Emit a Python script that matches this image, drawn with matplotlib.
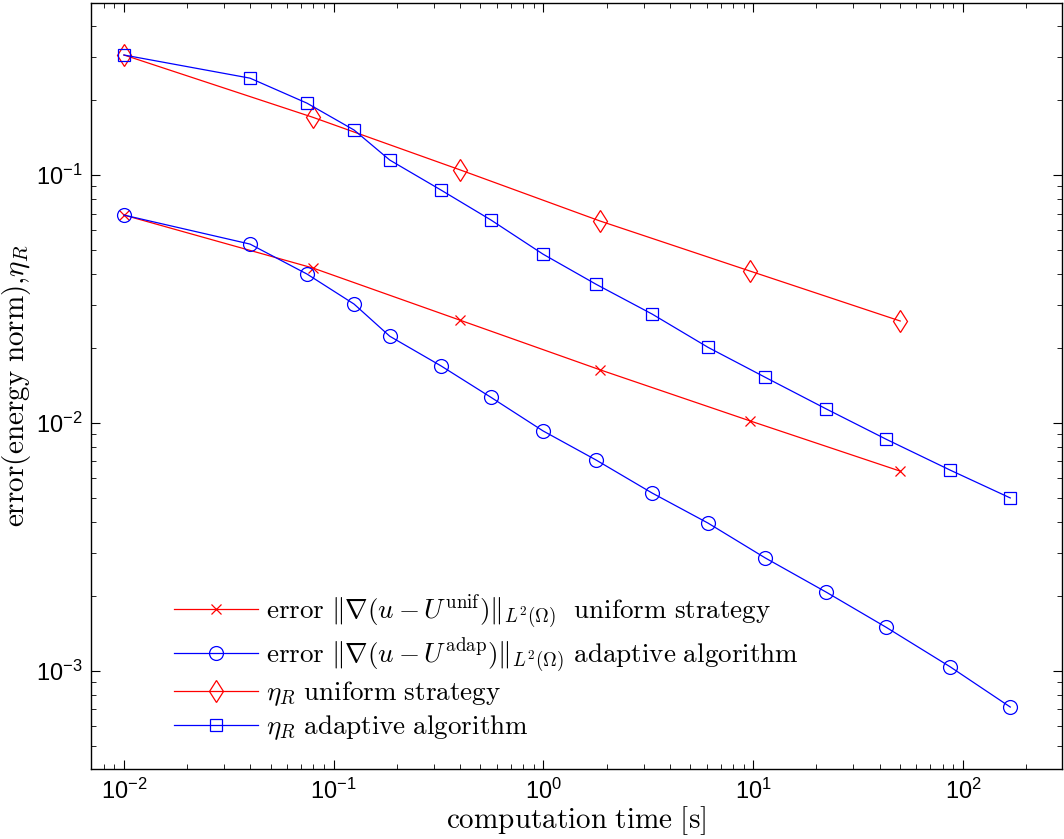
"""
Error and eta_R against computation time, uniform vs adaptive refinement.
"""

import matplotlib

matplotlib.use("Agg")
import matplotlib.pyplot as plt
from matplotlib.font_manager import FontProperties
from matplotlib.ticker import NullFormatter

# computation time [s]
t_unif = [0.01, 0.0796, 0.40, 1.86, 9.67, 50.2]
t_adap = [0.01, 0.0399, 0.0746, 0.125, 0.185, 0.325, 0.562, 0.995, 1.78,
          3.30, 6.09, 11.4, 22.3, 43.1, 86.9, 168.0]

# error in energy norm
err_unif = [0.069, 0.0422, 0.026, 0.0164, 0.0102, 0.0064]
err_adap = [0.069, 0.0527, 0.0399, 0.0302, 0.0224, 0.0170, 0.0127, 0.0093,
            0.0071, 0.00522, 0.00395, 0.00286, 0.00208, 0.00150, 0.00104,
            0.000716]

# residual estimator eta_R
eta_unif = [0.305, 0.171, 0.105, 0.0653, 0.041, 0.0258]
eta_adap = [0.305, 0.246, 0.195, 0.152, 0.115, 0.087, 0.0659, 0.048, 0.0363,
            0.0275, 0.0202, 0.0153, 0.0114, 0.0086, 0.00646, 0.00499]

labels = [
    r"$\mathrm{error}\ \|\nabla(u-U^{\mathrm{unif}})\|_{L^2(\Omega)}\ \ \mathrm{uniform\ strategy}$",
    r"$\mathrm{error}\ \|\nabla(u-U^{\mathrm{adap}})\|_{L^2(\Omega)}\ \mathrm{adaptive\ algorithm}$",
    r"$\eta_R\ \mathrm{uniform\ strategy}$",
    r"$\eta_R\ \mathrm{adaptive\ algorithm}$",
]

plt.rcParams.update(
    {
        "font.family": ["Liberation Sans", "DejaVu Sans"],
        "mathtext.fontset": "custom",
        "mathtext.rm": "Liberation Sans",
        "mathtext.it": "Liberation Sans:italic",
        "mathtext.bf": "Liberation Sans:bold",
        "axes.linewidth": 1.0,
        "xtick.direction": "in",
        "ytick.direction": "in",
        "xtick.top": True,
        "ytick.right": True,
        "xtick.major.size": 6.5,
        "ytick.major.size": 6.5,
        "xtick.minor.size": 3.5,
        "ytick.minor.size": 3.5,
        "xtick.labelsize": 17,
        "ytick.labelsize": 17,
    }
)

fig = plt.figure(figsize=(10.64, 8.39), dpi=100)
ax = fig.add_axes([91 / 1064, 1 - 769 / 839, (1062 - 91) / 1064, (769 - 3) / 839])

lw = 0.9
ax.loglog(t_unif, err_unif, color="red", lw=lw, marker="x", ms=7, mew=lw,
          label=labels[0])
ax.loglog(t_adap, err_adap, color="blue", lw=lw, marker="o", ms=10, mfc="none",
          mew=lw, label=labels[1])
ax.loglog(t_unif, eta_unif, color="red", lw=lw, marker="d", ms=11.5, mfc="none",
          mew=lw, label=labels[2])
ax.loglog(t_adap, eta_adap, color="blue", lw=lw, marker="s", ms=8, mfc="none",
          mew=lw, label=labels[3])

ax.set_xlim(10 ** -2.157, 10 ** 2.472)
ax.set_ylim(10 ** -3.395, 10 ** -0.306)
ax.xaxis.set_minor_formatter(NullFormatter())
ax.yaxis.set_minor_formatter(NullFormatter())
ax.tick_params(axis="x", which="both", pad=7)
ax.tick_params(axis="y", which="both", pad=6)

ax.set_xlabel(r"$\mathrm{computation\ time\ [s]}$", fontsize=21,
              math_fontfamily="cm", labelpad=0)
ax.set_ylabel(r"$\mathrm{error(energy\ norm)}{,}\eta_R$", fontsize=21,
              math_fontfamily="cm", labelpad=2)

leg_font = FontProperties(size=19.5, math_fontfamily="cm")
ax.legend(loc="upper left", bbox_to_anchor=(0.074, 0.245), frameon=False,
          prop=leg_font, handlelength=3.1, handletextpad=0.3,
          labelspacing=0.18, borderaxespad=0)

fig.savefig("out.png", dpi=100)
